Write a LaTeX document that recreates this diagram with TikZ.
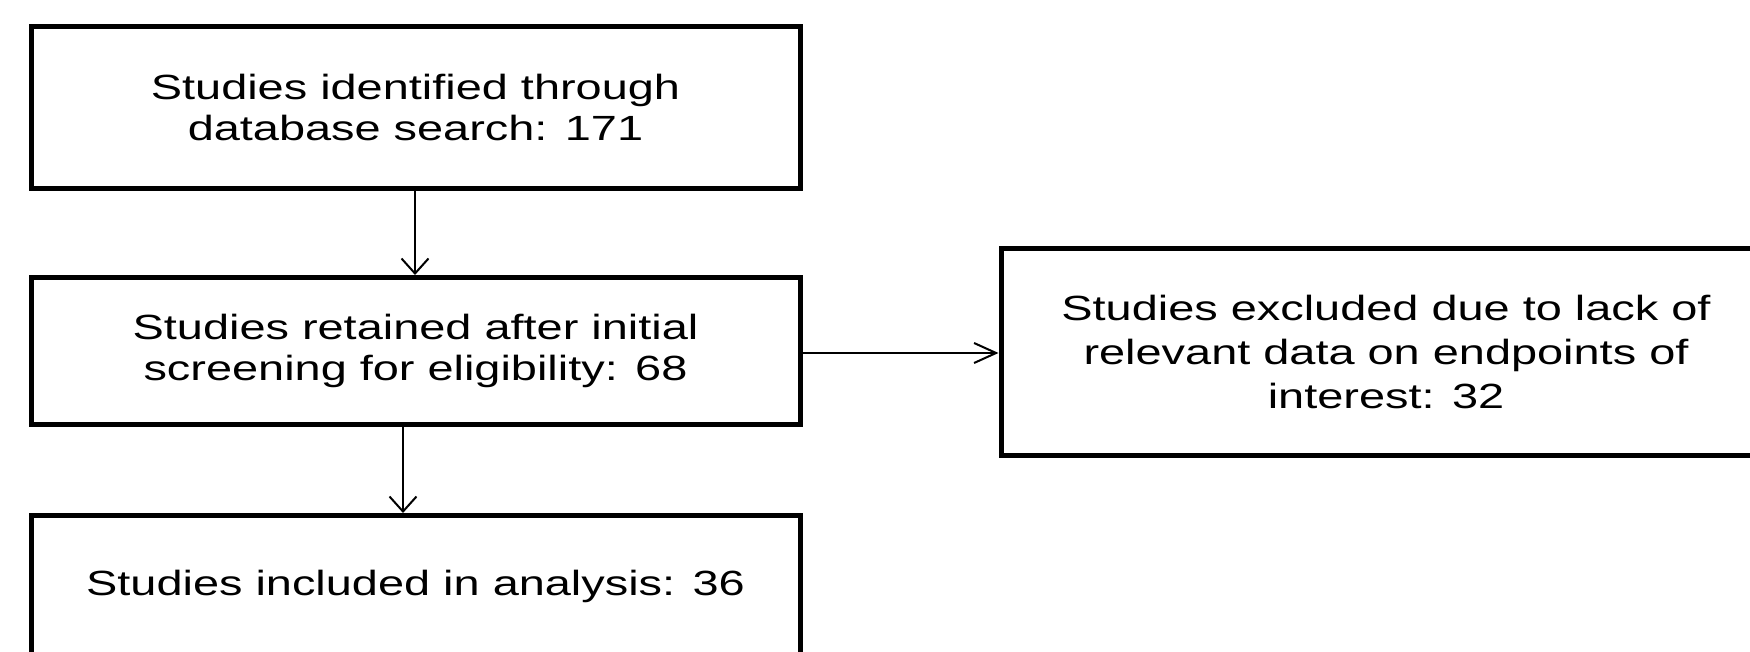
\documentclass[tikz,border=0pt]{standalone}
\usepackage{fontspec}
\newfontfamily\figfont[FakeStretch=1.34]{Liberation Sans}
\usetikzlibrary{arrows.meta}
\begin{document}
\begin{tikzpicture}[x=1pt,y=-1pt,
  box/.style={draw=black,line width=5pt,rectangle,inner sep=0pt,
    minimum width=769pt,align=center,
    font=\figfont\fontsize{35}{41}\selectfont},
  varr/.style={line width=2pt,-{Straight Barb[length=15pt,width=27pt,line width=2pt]}},
  harr/.style={line width=2pt,-{Straight Barb[length=22pt,width=20pt,line width=2pt]}}]
\useasboundingbox[fill=white] (0,0) rectangle (1750,652);
\node[box,minimum height=162pt] (b1) at (415.5,107.5) {Studies identified through\\database search: 171};
\node[box,minimum height=147pt] (b2) at (415.5,351) {Studies retained after initial\\screening for eligibility: 68};
\node[box,minimum height=142pt] (b3) at (415.5,586.5) {Studies included in analysis: 36};
\node[box,minimum width=770pt,minimum height=207pt,font=\figfont\fontsize{35}{44}\selectfont] (b4) at (1386,352) {Studies excluded due to lack of\\relevant data on endpoints of\\interest: 32};
\coordinate (x1) at (415,0);
\coordinate (x2) at (403,0);
\coordinate (y3) at (0,353);
\draw[varr] (b1.south -| x1) -- (b2.north -| x1);
\draw[varr] (b2.south -| x2) -- (b3.north -| x2);
\draw[harr] (b2.east |- y3) -- (b4.west |- y3);
\end{tikzpicture}
\end{document}
